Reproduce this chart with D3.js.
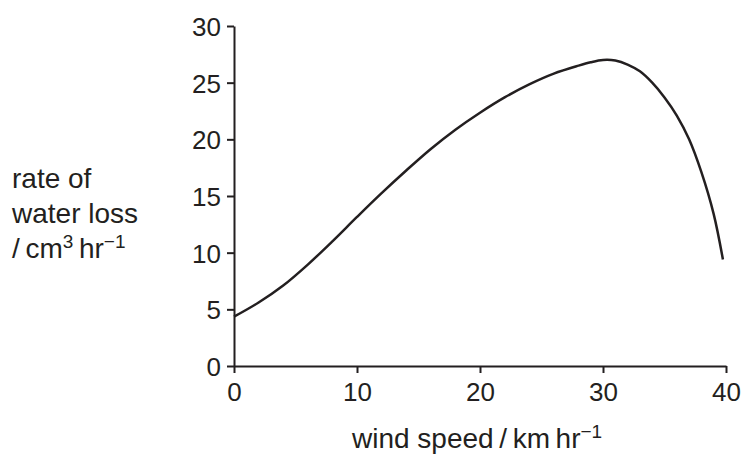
<!DOCTYPE html>
<html>
<head>
<meta charset="utf-8">
<script src="https://cdn.jsdelivr.net/npm/d3@7"></script>
<style>
  body { margin: 0; background: #fff; }
  text { font-family: "Liberation Sans", Arial, sans-serif; fill: #231f20; }
</style>
</head>
<body>
<div id="chart"></div>
<script>
// wind speed (km/hr) vs rate of water loss (cm3/hr)
const windSpeed = [0, 2, 4, 6, 8, 10, 12, 14, 16, 18, 20, 22, 24, 26, 28, 29, 30, 31, 32, 33, 34, 35, 36, 37, 38, 39, 39.75];
const waterLoss = [4.35, 5.6, 7.1, 8.95, 11.0, 13.15, 15.25, 17.25, 19.15, 20.85, 22.35, 23.7, 24.85, 25.8, 26.5, 26.8, 27.0, 26.95, 26.6, 26.0, 25.0, 23.7, 22.1, 20.0, 17.1, 13.4, 9.4];
const xTicks = [0, 10, 20, 30, 40];
const yTicks = [0, 5, 10, 15, 20, 25, 30];

const W = 744, H = 455;
const ink = '#231f20';

const svg = d3.select('#chart').append('svg')
    .attr('width', W)
    .attr('height', H);

const x = d3.scaleLinear().domain([0, 40]).range([234, 726]);
const y = d3.scaleLinear().domain([0, 30]).range([366, 26]);

// axes
const xAxis = svg.append('g')
    .attr('transform', 'translate(0,' + y(0) + ')')
    .call(d3.axisBottom(x).tickValues(xTicks).tickSize(7).tickSizeOuter(0).tickPadding(10));
const yAxis = svg.append('g')
    .attr('transform', 'translate(' + x(0) + ',0)')
    .call(d3.axisLeft(y).tickValues(yTicks).tickSize(7).tickSizeOuter(0).tickPadding(6));

[xAxis, yAxis].forEach(g => {
    g.select('.domain').attr('stroke', ink).attr('stroke-width', 2);
    g.selectAll('.tick line').attr('stroke', ink).attr('stroke-width', 2);
    g.selectAll('.tick text')
        .attr('font-size', 26)
        .attr('font-family', '"Liberation Sans", Arial, sans-serif')
        .attr('fill', ink);
});
yAxis.selectAll('.tick text').attr('dy', '0.36em');

// curve
const line = d3.line()
    .x((d, i) => x(windSpeed[i]))
    .y(d => y(d))
    .curve(d3.curveCatmullRom.alpha(0.5));

svg.append('path')
    .datum(waterLoss)
    .attr('fill', 'none')
    .attr('stroke', ink)
    .attr('stroke-width', 2.5)
    .attr('d', line);

// y label
const yl = svg.append('text').attr('font-size', 28);
yl.append('tspan').attr('x', 12).attr('y', 188).text('rate of');
yl.append('tspan').attr('x', 12).attr('y', 223).text('water loss');
const l3 = yl.append('tspan').attr('x', 12).attr('y', 258);
l3.text('/\u2009cm');
yl.append('tspan').attr('font-size', 19).attr('dy', -10).text('3');
yl.append('tspan').attr('dy', 10).text('\u2009hr');
yl.append('tspan').attr('font-size', 19).attr('dy', -10).text('\u22121');

// x label
const xl = svg.append('text').attr('font-size', 28).attr('x', 352).attr('y', 448);
xl.append('tspan').text('wind speed\u2009/\u2009km\u2009hr');
xl.append('tspan').attr('font-size', 19).attr('dy', -10).text('\u22121');
</script>
</body>
</html>
